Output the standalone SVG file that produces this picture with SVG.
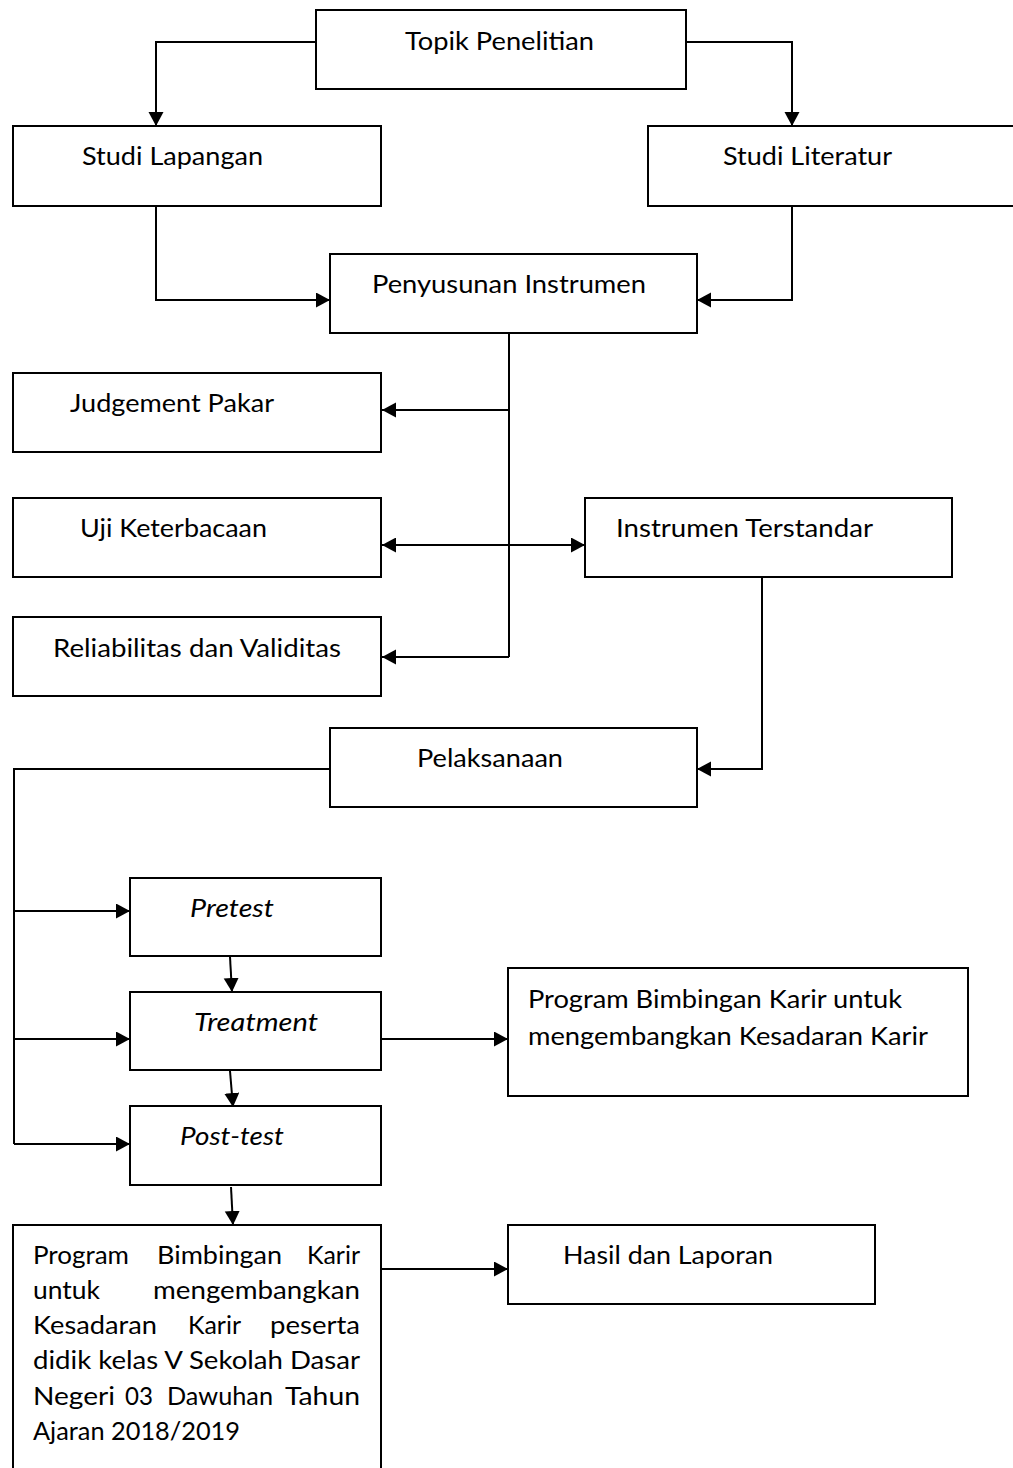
<svg xmlns="http://www.w3.org/2000/svg" width="1013" height="1468" viewBox="0 0 1013 1468">
<style>
.box{fill:#fff;stroke:#000;stroke-width:2}
.t{font-family:Lato,"Open Sans","Liberation Sans",sans-serif;font-size:25px;fill:#000}
.i{font-style:italic}
.c{fill:none;stroke:#000;stroke-width:2}
</style>
<defs>
<marker id="a" markerWidth="16" markerHeight="16" refX="14" refY="7.5" orient="auto" markerUnits="userSpaceOnUse"><path d="M0,0 L14,7.5 L0,15 Z" fill="#000"/></marker>
<marker id="s" markerWidth="16" markerHeight="16" refX="0" refY="7.5" orient="auto" markerUnits="userSpaceOnUse"><path d="M14,0 L0,7.5 L14,15 Z" fill="#000"/></marker>
</defs>
<rect width="1013" height="1468" fill="#fff"/>
<g id="connectors">
<path class="c" d="M316,42 H156 V126" marker-end="url(#a)"/>
<path class="c" d="M686,42 H792 V126" marker-end="url(#a)"/>
<path class="c" d="M156,206 V300 H330" marker-end="url(#a)"/>
<path class="c" d="M792,206 V300 H697" marker-end="url(#a)"/>
<path class="c" d="M509,333 V657"/>
<path class="c" d="M509,410 H382" marker-end="url(#a)"/>
<path class="c" d="M382,545 H585" marker-start="url(#s)" marker-end="url(#a)"/>
<path class="c" d="M509,657 H382" marker-end="url(#a)"/>
<path class="c" d="M762,578 V769 H697" marker-end="url(#a)"/>
<path class="c" d="M330,769 H14 V1144"/>
<path class="c" d="M14,911 H130" marker-end="url(#a)"/>
<path class="c" d="M14,1039 H130" marker-end="url(#a)"/>
<path class="c" d="M14,1144 H130" marker-end="url(#a)"/>
<path class="c" d="M230,957 L232,992" marker-end="url(#a)"/>
<path class="c" d="M230,1071 L233,1107" marker-end="url(#a)"/>
<path class="c" d="M231,1187 L233,1225" marker-end="url(#a)"/>
<path class="c" d="M382,1039 H508" marker-end="url(#a)"/>
<path class="c" d="M382,1269 H508" marker-end="url(#a)"/>
</g>
<g id="topik"><rect class="box" x="316" y="10" width="370" height="79"/><text class="t" x="405" y="50" textLength="189" lengthAdjust="spacingAndGlyphs">Topik Penelitian</text></g>
<g id="studi-lapangan"><rect class="box" x="13" y="126" width="368" height="80"/><text class="t" x="82" y="165" textLength="181" lengthAdjust="spacingAndGlyphs">Studi Lapangan</text></g>
<g id="studi-literatur"><rect class="box" x="648" y="126" width="380" height="80"/><text class="t" x="723" y="165" textLength="169" lengthAdjust="spacingAndGlyphs">Studi Literatur</text></g>
<g id="penyusunan"><rect class="box" x="330" y="254" width="367" height="79"/><text class="t" x="372" y="293" textLength="274" lengthAdjust="spacingAndGlyphs">Penyusunan Instrumen</text></g>
<g id="judgement"><rect class="box" x="13" y="373" width="368" height="79"/><text class="t" x="70" y="412" textLength="204" lengthAdjust="spacingAndGlyphs">Judgement Pakar</text></g>
<g id="uji"><rect class="box" x="13" y="498" width="368" height="79"/><text class="t" x="80" y="537" textLength="187" lengthAdjust="spacingAndGlyphs">Uji Keterbacaan</text></g>
<g id="instrumen-terstandar"><rect class="box" x="585" y="498" width="367" height="79"/><text class="t" x="616" y="537" textLength="257" lengthAdjust="spacingAndGlyphs">Instrumen Terstandar</text></g>
<g id="reliabilitas"><rect class="box" x="13" y="617" width="368" height="79"/><text class="t" x="53" y="657" textLength="288" lengthAdjust="spacingAndGlyphs">Reliabilitas dan Validitas</text></g>
<g id="pelaksanaan"><rect class="box" x="330" y="728" width="367" height="79"/><text class="t" x="417" y="767" textLength="146" lengthAdjust="spacingAndGlyphs">Pelaksanaan</text></g>
<g id="pretest"><rect class="box" x="130" y="878" width="251" height="78"/><text class="t i" x="190" y="917" textLength="84" lengthAdjust="spacingAndGlyphs">Pretest</text></g>
<g id="treatment"><rect class="box" x="130" y="992" width="251" height="78"/><text class="t i" x="194" y="1031" textLength="124" lengthAdjust="spacingAndGlyphs">Treatment</text></g>
<g id="program"><rect class="box" x="508" y="968" width="460" height="128"/><text class="t" x="528" y="1008" textLength="374" lengthAdjust="spacingAndGlyphs">Program Bimbingan Karir untuk</text><text class="t" x="528" y="1045" textLength="400" lengthAdjust="spacingAndGlyphs">mengembangkan Kesadaran Karir</text></g>
<g id="posttest"><rect class="box" x="130" y="1106" width="251" height="79"/><text class="t i" x="180" y="1145" textLength="104" lengthAdjust="spacingAndGlyphs">Post-test</text></g>
<g id="program-final"><rect class="box" x="13" y="1225" width="368" height="260"/>
<text class="t" y="1264"><tspan x="33" textLength="96" lengthAdjust="spacingAndGlyphs">Program</tspan><tspan x="157" textLength="125" lengthAdjust="spacingAndGlyphs">Bimbingan</tspan><tspan x="307" textLength="53" lengthAdjust="spacingAndGlyphs">Karir</tspan></text>
<text class="t" y="1299"><tspan x="33" textLength="67" lengthAdjust="spacingAndGlyphs">untuk</tspan><tspan x="153" textLength="207" lengthAdjust="spacingAndGlyphs">mengembangkan</tspan></text>
<text class="t" y="1334"><tspan x="33" textLength="124" lengthAdjust="spacingAndGlyphs">Kesadaran</tspan><tspan x="188" textLength="53" lengthAdjust="spacingAndGlyphs">Karir</tspan><tspan x="270" textLength="90" lengthAdjust="spacingAndGlyphs">peserta</tspan></text>
<text class="t" x="33" y="1369" textLength="327" lengthAdjust="spacingAndGlyphs">didik kelas V Sekolah Dasar</text>
<text class="t" y="1405"><tspan x="33" textLength="82" lengthAdjust="spacingAndGlyphs">Negeri</tspan><tspan x="125" textLength="28" lengthAdjust="spacingAndGlyphs">03</tspan><tspan x="167" textLength="106" lengthAdjust="spacingAndGlyphs">Dawuhan</tspan><tspan x="285" textLength="75" lengthAdjust="spacingAndGlyphs">Tahun</tspan></text>
<text class="t" x="33" y="1440" textLength="207" lengthAdjust="spacingAndGlyphs">Ajaran 2018/2019</text>
</g>
<g id="hasil"><rect class="box" x="508" y="1225" width="367" height="79"/><text class="t" x="563" y="1264" textLength="210" lengthAdjust="spacingAndGlyphs">Hasil dan Laporan</text></g>
</svg>
